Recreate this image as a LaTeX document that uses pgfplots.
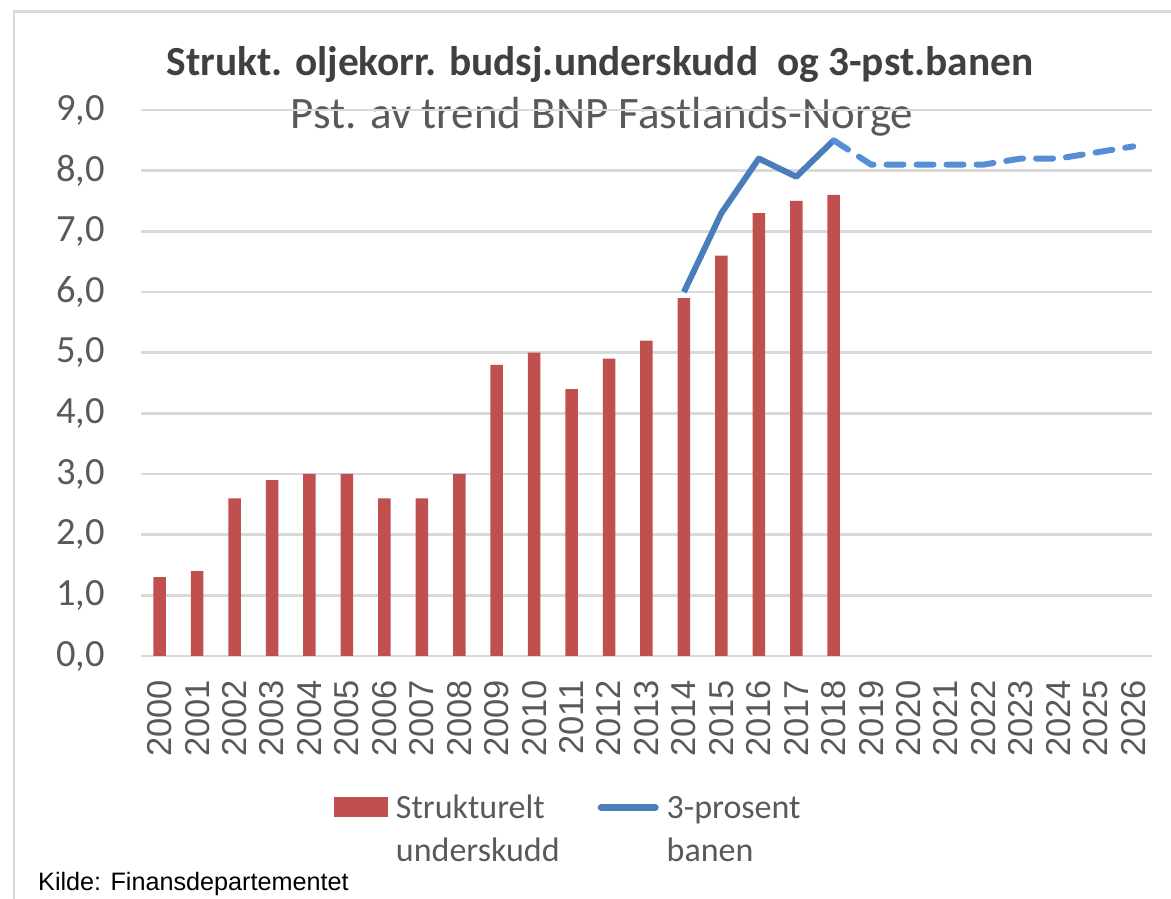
\documentclass[border=0pt]{standalone}
\usepackage{pgfplots}
\pgfplotsset{compat=1.18}
\usepackage{fontspec}
\setmainfont{Carlito}
\newfontfamily\carlito{Carlito}
\newfontfamily\arial{Liberation Sans}
\definecolor{barred}{HTML}{C0504D}
\definecolor{lineblue}{HTML}{4A7EBB}
\definecolor{dashblue}{HTML}{558ED5}
\definecolor{gridc}{HTML}{D9D9D9}
\definecolor{txtgrey}{HTML}{595959}
\definecolor{titlegrey}{HTML}{404040}
\begin{document}
\begin{tikzpicture}[x=1pt,y=1pt]
\path[use as bounding box] (0,0) rectangle (1171,899);
\draw[gridc, line width=2.5pt] (14,0) -- (14,887.5) -- (1171,887.5);
\node[font=\carlito\bfseries\fontsize{41.4}{48}\selectfont, text=titlegrey, inner sep=0pt] at (600,835) {Strukt. oljekorr. budsj.underskudd\ \ og 3-pst.banen};
\node[font=\carlito\fontsize{45}{52}\selectfont, text=txtgrey, inner sep=0pt] at (602,782) {Pst. av trend BNP Fastlands-Norge};
\node[font=\arial\fontsize{25.2}{29}\selectfont, text=black, inner sep=0pt, anchor=base west] at (38,8) {Kilde: Finansdepartementet};
\begin{axis}[
  at={(141pt,243pt)}, anchor=south west, scale only axis,
  width=1011pt, height=546pt,
  xmin=-0.5, xmax=26.5, ymin=0, ymax=9,
  axis line style={draw=none},
  clip=false,
  ytick={0,1,...,9},
  ymajorgrids, grid style={gridc, line width=2.5pt},
  xtick={0,1,...,26},
  xticklabels={2000,2001,2002,2003,2004,2005,2006,2007,2008,2009,2010,2011,2012,2013,2014,2015,2016,2017,2018,2019,2020,2021,2022,2023,2024,2025,2026},
  major tick length=0pt,
  yticklabel style={font=\carlito\fontsize{38.5}{44}\selectfont, text=txtgrey, inner ysep=0pt, inner xsep=36pt, anchor=east,
    /pgf/number format/.cd, fixed, fixed zerofill, precision=1, use comma, assume math mode=true},
  xticklabel style={font=\arial\fontsize{34.5}{40}\selectfont, text=txtgrey, rotate=90, anchor=east, inner ysep=0pt, inner xsep=24pt},
  legend style={draw=none, fill=none, inner sep=0pt, outer sep=0pt,
    at={(axis description cs:0.1909,-0.251)}, anchor=north west,
    font=\carlito\fontsize{34}{43}\selectfont, text=txtgrey,
    cells={align=left, anchor=base west, inner sep=0pt},
    /tikz/every odd column/.append style={column sep=6pt},
    /tikz/every even column/.append style={column sep=36pt}},
  legend columns=2,
]
\addplot[ybar, bar width=12.5pt, fill=barred, draw=none,
  legend image code/.code={\fill[barred] (0pt,45pt) rectangle (54pt,65pt);}]
  coordinates {(0,1.3) (1,1.4) (2,2.6) (3,2.9) (4,3.0) (5,3.0) (6,2.6) (7,2.6) (8,3.0) (9,4.8) (10,5.0) (11,4.4) (12,4.9) (13,5.2) (14,5.9) (15,6.6) (16,7.3) (17,7.5) (18,7.6)};
\addlegendentry{Strukturelt\\underskudd}
\addplot[lineblue, line width=6pt, line join=round, mark=none,
  legend image code/.code={\draw[lineblue, line width=7pt, line cap=round] (3pt,54pt) -- (57pt,54pt);}]
  coordinates {(14,6.0) (15,7.3) (16,8.2) (17,7.9) (18,8.5)};
\addlegendentry{3-prosent\\banen}
\addplot[dashblue, line width=6pt, line cap=round, dash pattern=on 17pt off 13pt, mark=none, forget plot]
  coordinates {(18,8.5) (19,8.1) (20,8.1) (21,8.1) (22,8.1) (23,8.2) (24,8.2) (25,8.3) (26,8.4)};
\end{axis}
\end{tikzpicture}
\end{document}
